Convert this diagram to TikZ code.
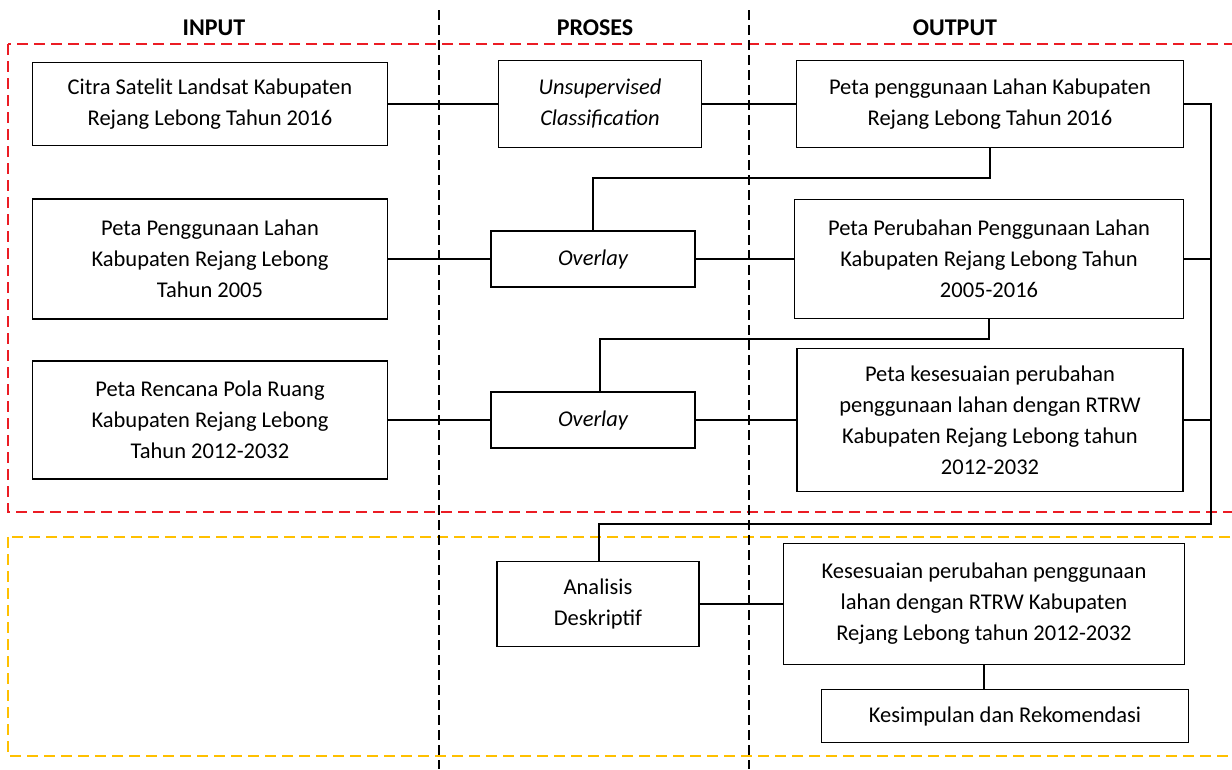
\documentclass[tikz,border=0pt]{standalone}
\usepackage{fontspec}
\setmainfont{Carlito}
\definecolor{frame red}{RGB}{235,28,36}
\definecolor{frame gold}{RGB}{255,192,0}
\begin{document}
\begin{tikzpicture}[x=1pt,y=-1pt,
                    line width=1.6pt,
                    box/.style={draw,rectangle,align=center,inner sep=0pt,
                                font=\fontsize{22.5}{31}\selectfont},
                    head/.style={font=\fontsize{24}{28}\selectfont\bfseries},
                    lane/.style={dashed,line width=1.1pt,dash pattern=on 10pt off 5pt}]

        \clip (0,0) rectangle (1232,769);

        % Define frames and lanes
        \draw[frame red,line width=1.4pt,dash pattern=on 11pt off 6pt] (8,44) rectangle (1250,512);
        \draw[frame gold,line width=1.4pt,dash pattern=on 11pt off 6pt] (8,537) rectangle (1250,756);
        \draw[lane] (439,10) -- (439,769);
        \draw[lane] (749,10) -- (749,769);

        \node[head] (hIn)  at (214,28) {INPUT};
        \node[head] (hPro) at (595,28) {PROSES};
        \node[head] (hOut) at (955,28) {OUTPUT};

        % Define boxes
        \node[box,minimum width=355,minimum height=83]  (citra)    at (210,104) {Citra Satelit Landsat Kabupaten\\Rejang Lebong Tahun 2016};
        \node[box,minimum width=355,minimum height=120] (lahan05)  at (210,259) {Peta Penggunaan Lahan\\Kabupaten Rejang Lebong\\Tahun 2005};
        \node[box,minimum width=355,minimum height=118] (rencana)  at (210,420) {Peta Rencana Pola Ruang\\Kabupaten Rejang Lebong\\Tahun 2012-2032};
        \node[box,minimum width=203,minimum height=87]  (unsup)    at (600,104) {\itshape Unsupervised\\\itshape Classification};
        \node[box,minimum width=204,minimum height=56]  (overA)    at (593,259) {\itshape Overlay};
        \node[box,minimum width=204,minimum height=56]  (overB)    at (593,420) {\itshape Overlay};
        \node[box,minimum width=202,minimum height=85]  (analisis) at (598,604) {Analisis\\Deskriptif};
        \node[box,minimum width=387,minimum height=87]  (guna16)   at (990,104) {Peta penggunaan Lahan Kabupaten\\Rejang Lebong Tahun 2016};
        \node[box,minimum width=389,minimum height=119] (ubah)     at (989,259) {Peta Perubahan Penggunaan Lahan\\Kabupaten Rejang Lebong Tahun\\2005-2016};
        \node[box,minimum width=386,minimum height=143] (sesuai)   at (990,420) {Peta kesesuaian perubahan\\penggunaan lahan dengan RTRW\\Kabupaten Rejang Lebong tahun\\2012-2032};
        \node[box,minimum width=401,minimum height=121] (hasil)    at (984,604) {Kesesuaian perubahan penggunaan\\lahan dengan RTRW Kabupaten\\Rejang Lebong tahun 2012-2032};
        \node[box,minimum width=367,minimum height=53]  (simpul)   at (1005,716) {Kesimpulan dan Rekomendasi};

        % Define bends
        \coordinate (b1) at (593,178);
        \coordinate (b2) at (600,339);
        \coordinate (bus) at (1211,104);
        \coordinate (b3) at (599,524);

        % Draw edges
        \draw (citra) -- (unsup);
        \draw (unsup) -- (guna16);
        \draw (lahan05) -- (overA);
        \draw (overA) -- (ubah);
        \draw (rencana) -- (overB);
        \draw (overB) -- (sesuai);
        \draw (guna16.south) |- (b1) -- (overA.north);
        \draw (ubah.south) |- (b2) -- (b2 |- overB.north);
        \draw (guna16.east) -- (bus) |- (b3) -- (b3 |- analisis.north);
        \draw (ubah.east) -- (ubah.east -| bus);
        \draw (sesuai.east) -- (sesuai.east -| bus);
        \draw (analisis) -- (hasil);
        \draw (hasil.south) -- (hasil.south |- simpul.north);

\end{tikzpicture}
\end{document}
